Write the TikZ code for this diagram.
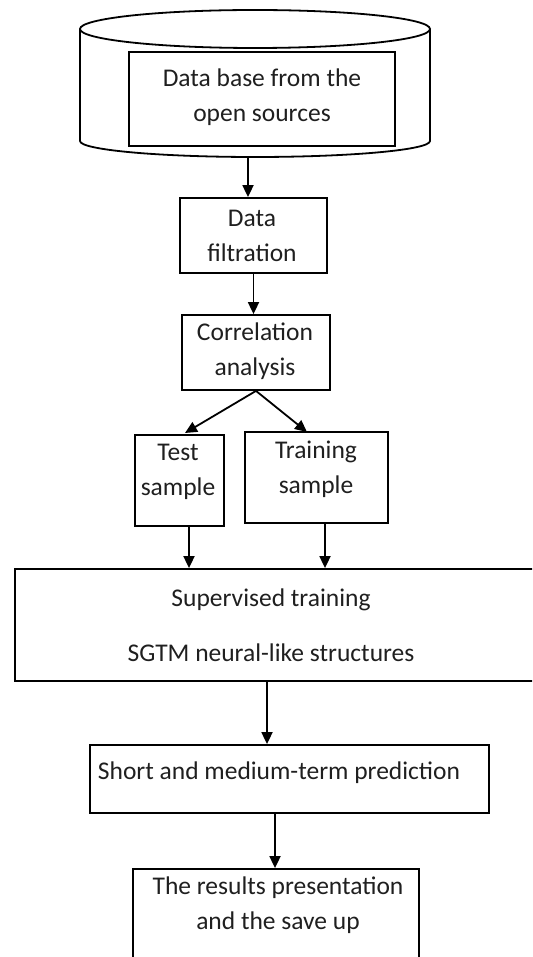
\documentclass[tikz,border=0pt]{standalone}
\usepackage{fontspec}
\setmainfont{Carlito}
\usetikzlibrary{arrows.meta,calc}
\begin{document}
\begin{tikzpicture}[x=1pt,y=-1pt,
  line width=1.8pt,
  box/.style={draw,line width=1.8pt,inner sep=0pt},
  txt/.style={align=center,inner sep=0pt,font=\fontsize{25.5}{35}\selectfont,text=black!88},
  arr/.style={-{Triangle[length=12pt,width=11pt]},line width=1.8pt}]
\useasboundingbox (0,0) rectangle (532,957);
\clip (0,0) rectangle (532,957);
% cylinder
\draw (255,29) ellipse [x radius=175pt, y radius=19pt];
\draw (80,29) -- (80,141) arc [start angle=180, end angle=360, x radius=175pt, y radius=16pt] -- (430,29);
\coordinate (cylb) at (248,157);
% boxes
\node[box,minimum width=266pt,minimum height=94pt] (db) at (262,99) {};
\node[txt] (dbt) at (262,97) {Data base from the\\open sources};
\node[box,minimum width=147pt,minimum height=75pt] (filt) at (253.5,235.5) {};
\node[txt] (filtt) at (252,236) {Data\\filtration};
\node[box,minimum width=148pt,minimum height=75pt] (corr) at (256,352.5) {};
\node[txt] (corrt) at (255,351) {Correlation\\analysis};
\node[box,minimum width=89pt,minimum height=91pt] (test) at (179.5,480.5) {};
\node[txt] (testt) at (178,472) {Test\\sample};
\node[box,minimum width=143pt,minimum height=91pt] (train) at (316.5,477.5) {};
\node[txt] (traint) at (316,469) {Training\\sample};
\node[box,minimum width=525pt,minimum height=112pt] (sup) at (277.5,625) {};
\node[txt,font=\fontsize{25.5}{55}\selectfont] (supt) at (271,625) {Supervised training\\SGTM neural-like structures};
\node[box,minimum width=399pt,minimum height=68pt] (short) at (289.5,779) {};
\node[txt] (shortt) at (279,773) {Short and medium-term prediction};
\node[box,minimum width=286pt,minimum height=120pt] (res) at (276,929) {};
\node[txt] (rest) at (278,905) {The results presentation\\and the save up};
% arrows
\draw[arr] (cylb) -- (cylb |- filt.north);
\draw[arr] (filt.south) -- (filt.south |- corr.north);
\draw[arr] (corr.south) -- (185,433);
\draw[arr] (corr.south) -- (307,432);
\draw[arr] (test.south -| 189,0) -- (189,0 |- sup.north);
\draw[arr] (train.south -| 325,0) -- (325,0 |- sup.north);
\draw[arr] (sup.south -| 267,0) -- (267,0 |- short.north);
\draw[arr] (short.south -| 275,0) -- (275,0 |- res.north);
\end{tikzpicture}
\end{document}
